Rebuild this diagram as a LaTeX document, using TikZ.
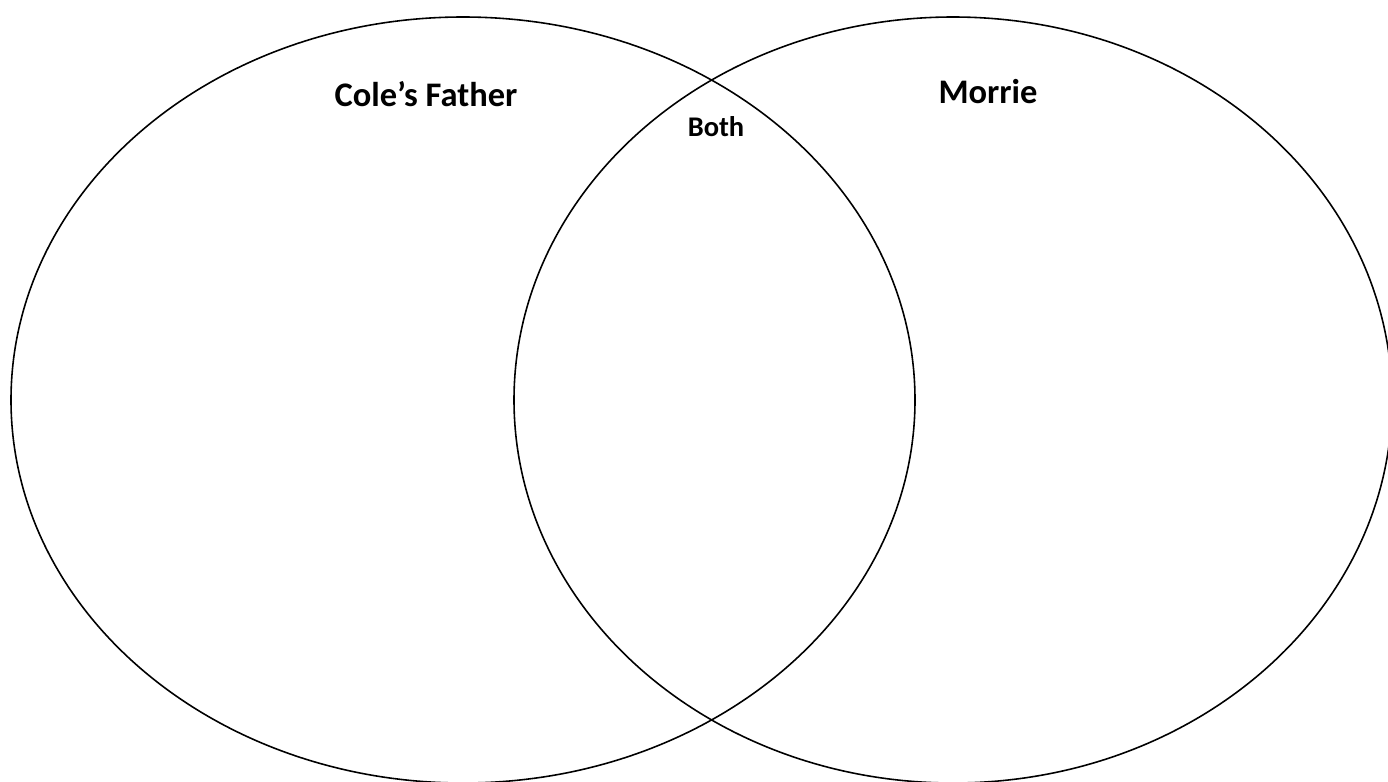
\documentclass[tikz,border=0pt]{standalone}
\usepackage{fontspec}
\setmainfont{Carlito}
\begin{document}
\begin{tikzpicture}[x=0.01cm, y=0.01cm, every node/.style={font=\bfseries, inner sep=0pt}]
  \useasboundingbox (0,0) rectangle (1388,781);
  \clip (0,0) rectangle (1388,781);
  \coordinate (CL) at (463,381);
  \coordinate (CR) at (953,381);

  \draw[line width=.45pt] (CL) ellipse [x radius=452, y radius=383];
  \draw[line width=.45pt] (CR) ellipse [x radius=439, y radius=383];

  \node[anchor=base, font=\fontsize{9.8}{12}\selectfont\bfseries] (cole)   at (426,675) {Cole’s Father};
  \node[anchor=base, font=\fontsize{9.8}{12}\selectfont\bfseries] (morrie) at (988,678) {Morrie};
  \node[anchor=base, font=\fontsize{8.1}{10}\selectfont\bfseries] (both)   at (716,644) {Both};
\end{tikzpicture}
\end{document}
